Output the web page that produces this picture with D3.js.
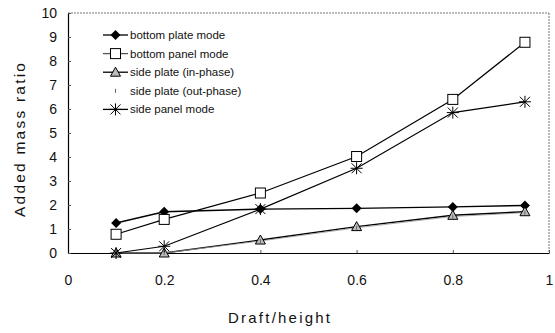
<!DOCTYPE html>
<html><head><meta charset="utf-8">
<script src="https://cdn.jsdelivr.net/npm/d3@7"></script>
<style>body{margin:0;background:#fff;} text{font-family:"Liberation Sans",Arial,sans-serif;}</style>
</head><body>
<svg id="c" width="555" height="333"></svg>
<script>
const drafts = [0.1, 0.2, 0.4, 0.6, 0.8, 0.95];
const bottomPlate = [1.25, 1.72, 1.83, 1.86, 1.92, 1.98];
const bottomPanel = [0.78, 1.4, 2.5, 4.02, 6.4, 8.78];
const sidePlateIn = [0, 0, 0.54, 1.1, 1.57, 1.72];
const sidePlateOut = [0, 0, 0.5, 1.05, 1.52, 1.68];
const sidePanel = [0, 0.28, 1.83, 3.53, 5.85, 6.3];
const seriesNames = ["bottom plate mode","bottom panel mode","side plate (in-phase)","side plate (out-phase)","side panel mode"];
const xTicks = [0, 0.2, 0.4, 0.6, 0.8, 1];
const xTickLabels = ["0","0.2","0.4","0.6","0.8","1"];
const yTicks = [0,1,2,3,4,5,6,7,8,9,10];

const svg = d3.select("#c");
const L=68, R=549, T=13, B=253;
const x = d3.scaleLinear().domain([0,1]).range([L,R]);
const y = d3.scaleLinear().domain([0,10]).range([B,T]);

svg.append("line").attr("x1",L).attr("x2",R).attr("y1",T).attr("y2",T).attr("stroke","#777").attr("stroke-dasharray","2,1");
svg.append("line").attr("x1",R).attr("x2",R).attr("y1",T).attr("y2",B).attr("stroke","#777").attr("stroke-dasharray","2,1");

const xAxis = d3.axisBottom(x).tickValues(xTicks).tickFormat((d,i)=>xTickLabels[i]).tickSizeInner(-3).tickSizeOuter(0).tickPadding(22);
const gx = svg.append("g").attr("transform",`translate(0,${B})`).call(xAxis);
gx.select(".domain").attr("stroke","#000").attr("stroke-width",1.2);
gx.selectAll("text").attr("font-size",14).attr("fill","#111");
gx.selectAll(".tick line").attr("stroke","#555");

const yAxis = d3.axisLeft(y).tickValues(yTicks).tickSizeInner(-3).tickSizeOuter(0).tickPadding(11);
const gy = svg.append("g").attr("transform",`translate(${L},0)`).call(yAxis);
gy.select(".domain").attr("stroke","#000").attr("stroke-width",1.2);
gy.selectAll("text").attr("font-size",14).attr("fill","#111");
gy.selectAll(".tick line").attr("stroke","#555");

svg.append("text").attr("x",279).attr("y",323).attr("text-anchor","middle").attr("font-size",15)
  .attr("textLength",102).attr("lengthAdjust","spacing").attr("fill","#111").text("Draft/height");
svg.append("text").attr("transform","translate(25,140) rotate(-90)").attr("text-anchor","middle").attr("font-size",15.5)
  .attr("textLength",154).attr("lengthAdjust","spacing").attr("fill","#111").text("Added mass ratio");

const line = d3.line().x((d,i)=>x(drafts[i])).y(d=>y(d));
const series = [
  {name:seriesNames[0], v:bottomPlate, m:"diamond", color:"#000", w:1.4},
  {name:seriesNames[1], v:bottomPanel, m:"square", color:"#000", w:1.2},
  {name:seriesNames[2], v:sidePlateIn, m:"triangle", color:"#000", w:1.4},
  {name:seriesNames[3], v:sidePlateOut, m:"plus", color:"#999", w:0.8},
  {name:seriesNames[4], v:sidePanel, m:"star", color:"#000", w:1.2}
];

function marker(g, type, cx, cy){
  if(type==="diamond"){
    g.append("path").attr("d",`M${cx},${cy-5}L${cx+5},${cy}L${cx},${cy+5}L${cx-5},${cy}Z`).attr("fill","#000");
  } else if(type==="square"){
    g.append("rect").attr("x",cx-5).attr("y",cy-5).attr("width",10).attr("height",10).attr("fill","#fff").attr("stroke","#000").attr("stroke-width",1);
  } else if(type==="triangle"){
    g.append("path").attr("d",`M${cx},${cy-5}L${cx+5},${cy+4}L${cx-5},${cy+4}Z`).attr("fill","#bbb").attr("stroke","#000").attr("stroke-width",1);
  } else if(type==="plus"){
    g.append("path").attr("d",`M${cx},${cy-2}V${cy+2}`).attr("stroke","#666").attr("stroke-width",1);
  } else if(type==="star"){
    const p=[[-5,-5,5,5],[-5,5,5,-5],[0,-6,0,6],[-6,0,6,0]];
    p.forEach(q=>g.append("line").attr("x1",cx+q[0]).attr("y1",cy+q[1]).attr("x2",cx+q[2]).attr("y2",cy+q[3]).attr("stroke","#000").attr("stroke-width",1));
  }
}

const plot = svg.append("g");
series.forEach(s=>{
  plot.append("path").datum(s.v).attr("d",line).attr("fill","none").attr("stroke",s.color).attr("stroke-width",s.w);
});
series.forEach(s=>{
  const g = plot.append("g");
  s.v.forEach((v,i)=>marker(g, s.m, x(drafts[i]), y(v)));
});

const lg = svg.append("g");
series.forEach((s,i)=>{
  const yy = 35 + i*18.6;
  if(s.m!=="plus"){
    lg.append("line").attr("x1",103).attr("x2",128).attr("y1",yy).attr("y2",yy).attr("stroke",i===1?"#555":"#000").attr("stroke-width",1.3);
  }
  const g = lg.append("g");
  marker(g, s.m, 115.5, yy);
  lg.append("text").attr("x",130).attr("y",yy+4).attr("font-size",11.5).attr("fill","#111").text(s.name);
});
</script>
</body></html>
